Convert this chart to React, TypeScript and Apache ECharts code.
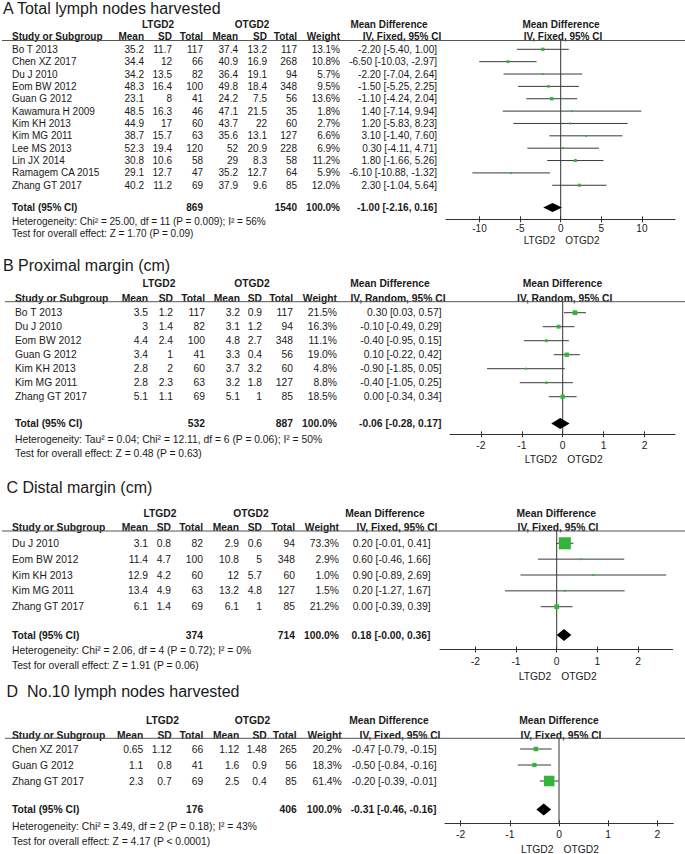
import { useEffect, useRef } from "react";
import * as echarts from "echarts";

// ---------------- DATA ----------------
// Panel A: Total lymph nodes harvested
const aTitle = "A Total lymph nodes harvested";
const aMethod = "IV, Fixed, 95% CI";
const aStudies = ["Bo T 2013", "Chen XZ 2017", "Du J 2010", "Eom BW 2012", "Guan G 2012", "Kawamura H 2009", "Kim KH 2013", "Kim MG 2011", "Lee MS 2013", "Lin JX 2014", "Ramagem CA 2015", "Zhang GT 2017"];
const aLMean = [35.2, 34.4, 34.2, 48.3, 23.1, 48.5, 44.9, 38.7, 52.3, 30.8, 29.1, 40.2];
const aLSd = [11.7, 12, 13.5, 16.4, 8, 16.3, 17, 15.7, 19.4, 10.6, 12.7, 11.2];
const aLN = [117, 66, 82, 100, 41, 46, 60, 63, 120, 58, 47, 69];
const aOMean = [37.4, 40.9, 36.4, 49.8, 24.2, 47.1, 43.7, 35.6, 52, 29, 35.2, 37.9];
const aOSd = [13.2, 16.9, 19.1, 18.4, 7.5, 21.5, 22, 13.1, 20.9, 8.3, 12.7, 9.6];
const aON = [117, 268, 94, 348, 56, 35, 60, 127, 228, 58, 64, 85];
const aWeight = [13.1, 10.8, 5.7, 9.5, 13.6, 1.8, 2.7, 6.6, 6.9, 11.2, 5.9, 12.0];
const aMd = [-2.2, -6.5, -2.2, -1.5, -1.1, 1.4, 1.2, 3.1, 0.3, 1.8, -6.1, 2.3];
const aLo = [-5.4, -10.03, -7.04, -5.25, -4.24, -7.14, -5.83, -1.4, -4.11, -1.66, -10.88, -1.04];
const aHi = [1.0, -2.97, 2.64, 2.25, 2.04, 9.94, 8.23, 7.6, 4.71, 5.26, -1.32, 5.64];
const aTotal = [869, 1540, -1.0, -2.16, 0.16]; // nL, nO, md, lo, hi
const aHet = "Heterogeneity: Chi² = 25.00, df = 11 (P = 0.009); I² = 56%";
const aTest = "Test for overall effect: Z = 1.70 (P = 0.09)";
const aTicks = [-10, -5, 0, 5, 10];

// Panel B: Proximal margin
const bTitle = "B Proximal margin (cm)";
const bMethod = "IV, Random, 95% CI";
const bStudies = ["Bo T 2013", "Du J 2010", "Eom BW 2012", "Guan G 2012", "Kim KH 2013", "Kim MG 2011", "Zhang GT 2017"];
const bLMean = [3.5, 3, 4.4, 3.4, 2.8, 2.8, 5.1];
const bLSd = [1.2, 1.4, 2.4, 1, 2, 2.3, 1.1];
const bLN = [117, 82, 100, 41, 60, 63, 69];
const bOMean = [3.2, 3.1, 4.8, 3.3, 3.7, 3.2, 5.1];
const bOSd = [0.9, 1.2, 2.7, 0.4, 3.2, 1.8, 1];
const bON = [117, 94, 348, 56, 60, 127, 85];
const bWeight = [21.5, 16.3, 11.1, 19.0, 4.8, 8.8, 18.5];
const bMd = [0.3, -0.1, -0.4, 0.1, -0.9, -0.4, 0.0];
const bLo = [0.03, -0.49, -0.95, -0.22, -1.85, -1.05, -0.34];
const bHi = [0.57, 0.29, 0.15, 0.42, 0.05, 0.25, 0.34];
const bTotal = [532, 887, -0.06, -0.28, 0.17];
const bHet = "Heterogeneity: Tau² = 0.04; Chi² = 12.11, df = 6 (P = 0.06); I² = 50%";
const bTest = "Test for overall effect: Z = 0.48 (P = 0.63)";
const bTicks = [-2, -1, 0, 1, 2];

// Panel C: Distal margin
const cTitle = "C Distal margin (cm)";
const cMethod = "IV, Fixed, 95% CI";
const cStudies = ["Du J 2010", "Eom BW 2012", "Kim KH 2013", "Kim MG 2011", "Zhang GT 2017"];
const cLMean = [3.1, 11.4, 12.9, 13.4, 6.1];
const cLSd = [0.8, 4.7, 4.2, 4.9, 1.4];
const cLN = [82, 100, 60, 63, 69];
const cOMean = [2.9, 10.8, 12, 13.2, 6.1];
const cOSd = [0.6, 5, 5.7, 4.8, 1];
const cON = [94, 348, 60, 127, 85];
const cWeight = [73.3, 2.9, 1.0, 1.5, 21.2];
const cMd = [0.2, 0.6, 0.9, 0.2, 0.0];
const cLo = [-0.01, -0.46, -0.89, -1.27, -0.39];
const cHi = [0.41, 1.66, 2.69, 1.67, 0.39];
const cTotal = [374, 714, 0.18, -0, 0.36];
const cHet = "Heterogeneity: Chi² = 2.06, df = 4 (P = 0.72); I² = 0%";
const cTest = "Test for overall effect: Z = 1.91 (P = 0.06)";
const cTicks = [-2, -1, 0, 1, 2];

// Panel D: No.10 lymph nodes harvested
const dTitle = "D  No.10 lymph nodes harvested";
const dMethod = "IV, Fixed, 95% CI";
const dStudies = ["Chen XZ 2017", "Guan G 2012", "Zhang GT 2017"];
const dLMean = [0.65, 1.1, 2.3];
const dLSd = [1.12, 0.8, 0.7];
const dLN = [66, 41, 69];
const dOMean = [1.12, 1.6, 2.5];
const dOSd = [1.48, 0.9, 0.4];
const dON = [265, 56, 85];
const dWeight = [20.2, 18.3, 61.4];
const dMd = [-0.47, -0.5, -0.2];
const dLo = [-0.79, -0.84, -0.39];
const dHi = [-0.15, -0.16, -0.01];
const dTotal = [176, 406, -0.31, -0.46, -0.16];
const dHet = "Heterogeneity: Chi² = 3.49, df = 2 (P = 0.18); I² = 43%";
const dTest = "Test for overall effect: Z = 4.17 (P < 0.0001)";
const dTicks = [-2, -1, 0, 1, 2];

const groupLabels = ["LTGD2", "OTGD2"];
const colHeaders = ["Mean", "SD", "Total", "Mean", "SD", "Total", "Weight"];

// ---------------- LAYOUT (positions / styles only) ----------------
const LAYOUT = [
  { titleX: 3, titleY: 8, font: 10, nameX: 12, groupY: 24, headY: 36, lineY: 40.5, lineX0: 2, row0: 49.3, step: 12.36, totalY: 207.5, hetY: 221.5, testY: 233.5, axisY: 219.3, zeroX: 560.7, ppu: 8.12, axL: 446, axR: 675, tickMargin: 4.5, sideY: 240, cols: [144, 172, 203, 238, 267, 297, 340, 437], grpX: [158, 252], md1X: 389, md2X: 402, pl1X: 561, pl2X: 563, diamondH: 9 },
  { titleX: 3, titleY: 265, font: 10.3, nameX: 15, groupY: 283, headY: 298, lineY: 301.7, lineX0: 5, row0: 312.7, step: 14, totalY: 423.5, hetY: 439.3, testY: 453.3, axisY: 434.3, zeroX: 562.7, ppu: 40.9, axL: 450, axR: 675, tickMargin: 6, sideY: 459, cols: [148, 173, 205, 240, 262, 293, 337, 441.5], grpX: [159, 252], md1X: 390, md2X: 398, pl1X: 562.5, pl2X: 564.7, diamondH: 11 },
  { titleX: 6.5, titleY: 487, font: 10.3, nameX: 12, groupY: 513, headY: 527, lineY: 531, lineX0: 2, row0: 543.3, step: 15.85, totalY: 635, hetY: 650, testY: 665, axisY: 649.5, zeroX: 556.7, ppu: 40.7, axL: 440, axR: 672.7, tickMargin: 7, sideY: 676.5, cols: [148, 171, 203, 239, 262, 295, 339, 430.5], grpX: [160, 251], md1X: 385, md2X: 397, pl1X: 556.3, pl2X: 558, diamondH: 12 },
  { titleX: 6.5, titleY: 691, font: 10.3, nameX: 12, groupY: 720, headY: 735, lineY: 738.3, lineX0: 5, row0: 749, step: 16, totalY: 809.5, hetY: 826.5, testY: 841.5, axisY: 823.3, zeroX: 559, ppu: 49.2, axL: 445, axR: 673.3, tickMargin: 6.5, sideY: 849, cols: [143.3, 171.7, 203.3, 239.3, 266.7, 296.7, 341.7, 436.5], grpX: [162.5, 252.5], md1X: 389, md2X: 400, pl1X: 559, pl2X: 561, diamondH: 12 },
];

const PANELS = [
  { title: aTitle, method: aMethod, studies: aStudies, lm: aLMean, ls: aLSd, ln: aLN, om: aOMean, os: aOSd, on: aON, w: aWeight, md: aMd, lo: aLo, hi: aHi, total: aTotal, het: aHet, test: aTest, ticks: aTicks },
  { title: bTitle, method: bMethod, studies: bStudies, lm: bLMean, ls: bLSd, ln: bLN, om: bOMean, os: bOSd, on: bON, w: bWeight, md: bMd, lo: bLo, hi: bHi, total: bTotal, het: bHet, test: bTest, ticks: bTicks },
  { title: cTitle, method: cMethod, studies: cStudies, lm: cLMean, ls: cLSd, ln: cLN, om: cOMean, os: cOSd, on: cON, w: cWeight, md: cMd, lo: cLo, hi: cHi, total: cTotal, het: cHet, test: cTest, ticks: cTicks },
  { title: dTitle, method: dMethod, studies: dStudies, lm: dLMean, ls: dLSd, ln: dLN, om: dOMean, os: dOSd, on: dON, w: dWeight, md: dMd, lo: dLo, hi: dHi, total: dTotal, het: dHet, test: dTest, ticks: dTicks },
];

const FONT = '"Liberation Sans", Arial, Helvetica, sans-serif';
const INK = "#1a1a1a";
const GREEN = "#35b43a";

function f2(v: number): string {
  if (v < 0 || Object.is(v, -0)) return "-" + Math.abs(v).toFixed(2);
  return v.toFixed(2);
}
function ci(md: number, lo: number, hi: number): string {
  return `${f2(md)} [${f2(lo)}, ${f2(hi)}]`;
}

function txt(text: string, x: number, y: number, size: number, align: string, bold = false) {
  return {
    type: "text",
    x,
    y,
    silent: true,
    style: {
      text,
      fontSize: size,
      fontFamily: FONT,
      fontWeight: bold ? "bold" : "normal",
      fill: INK,
      align,
      verticalAlign: "middle",
      textAlign: align,
      textVerticalAlign: "middle",
    },
  };
}

function buildOption() {
  const grids: any[] = [];
  const xAxes: any[] = [];
  const yAxes: any[] = [];
  const series: any[] = [];
  const graphics: any[] = [];

  PANELS.forEach((p, i) => {
    const L = LAYOUT[i];
    const toV = (py: number) => (py - L.row0) / L.step;
    const vTop = toV(L.lineY);
    const vBot = toV(L.axisY);
    const vTot = toV(L.totalY);
    const xMin = (L.axL - L.zeroX) / L.ppu;
    const xMax = (L.axR - L.zeroX) / L.ppu;

    grids.push({ left: L.axL, top: L.lineY, width: L.axR - L.axL, height: L.axisY - L.lineY, containLabel: false });
    xAxes.push({
      gridIndex: i,
      type: "value",
      min: xMin,
      max: xMax,
      position: "bottom",
      axisLine: { show: true, onZero: false, lineStyle: { color: "#333", width: 1 } },
      axisTick: { show: true, inside: false, length: 3, customValues: p.ticks, lineStyle: { color: "#333", width: 1 } },
      axisLabel: { show: true, customValues: p.ticks, margin: L.tickMargin, fontSize: L.font, fontFamily: FONT, color: INK, showMinLabel: true, showMaxLabel: true },
      splitLine: { show: false },
    });
    xAxes.push({
      gridIndex: i,
      type: "value",
      min: xMin,
      max: xMax,
      position: "bottom",
      axisLine: { show: false, onZero: false },
      axisTick: { show: true, inside: true, length: 3, customValues: p.ticks, lineStyle: { color: "#333", width: 1 } },
      axisLabel: { show: false },
      splitLine: { show: false },
    });
    yAxes.push({ gridIndex: i, type: "value", inverse: true, min: vTop, max: vBot, show: false, splitLine: { show: false } });

    // zero line
    series.push({
      type: "line",
      xAxisIndex: 2 * i,
      yAxisIndex: i,
      data: [[0, vTop], [0, vBot]],
      showSymbol: false,
      symbol: "none",
      silent: true,
      lineStyle: { color: "#333", width: 1 },
      z: 1,
    });

    // study CIs + squares
    series.push({
      type: "custom",
      xAxisIndex: 2 * i,
      yAxisIndex: i,
      silent: true,
      clip: false,
      z: 3,
      encode: { x: [0, 2, 3], y: 1 },
      data: p.studies.map((_, j) => [p.md[j], j, p.lo[j], p.hi[j], p.w[j]]),
      renderItem: (_params: any, api: any) => {
        const y = api.value(1);
        const c = api.coord([api.value(0), y]);
        const l = api.coord([api.value(2), y]);
        const h = api.coord([api.value(3), y]);
        const s = Math.max(2, 0.48 * Math.pow(api.value(4), 0.75));
        return {
          type: "group",
          children: [
            { type: "line", shape: { x1: l[0], y1: l[1], x2: h[0], y2: h[1] }, style: { stroke: "#3a3a3a", lineWidth: 1 } },
            { type: "rect", shape: { x: c[0] - s / 2, y: c[1] - s / 2, width: s, height: s }, style: { fill: GREEN } },
          ],
        };
      },
    });

    // total diamond
    series.push({
      type: "custom",
      xAxisIndex: 2 * i,
      yAxisIndex: i,
      silent: true,
      clip: false,
      z: 4,
      encode: { x: [0, 2, 3], y: 1 },
      data: [[p.total[2], vTot, p.total[3], p.total[4]]],
      renderItem: (_params: any, api: any) => {
        const y = api.value(1);
        const c = api.coord([api.value(0), y]);
        const l = api.coord([api.value(2), y]);
        const h = api.coord([api.value(3), y]);
        const hh = L.diamondH / 2;
        return {
          type: "polygon",
          shape: { points: [[l[0], c[1]], [c[0], c[1] - hh], [h[0], c[1]], [c[0], c[1] + hh]] },
          style: { fill: "#000" },
        };
      },
    });

    // ---------- text / table ----------
    const fs = L.font;
    graphics.push(txt(p.title, L.titleX, L.titleY, 16, "left"));
    graphics.push(txt(groupLabels[0], L.grpX[0], L.groupY, fs, "center", true));
    graphics.push(txt(groupLabels[1], L.grpX[1], L.groupY, fs, "center", true));
    graphics.push(txt("Mean Difference", L.md1X, L.groupY, fs, "center", true));
    graphics.push(txt(p.method, L.md2X, L.headY, fs, "center", true));
    graphics.push(txt("Mean Difference", L.pl1X, L.groupY, fs, "center", true));
    graphics.push(txt(p.method, L.pl2X, L.headY, fs, "center", true));
    graphics.push(txt("Study or Subgroup", L.nameX, L.headY, fs, "left", true));
    colHeaders.forEach((h, k) => graphics.push(txt(h, L.cols[k], L.headY, fs, "right", true)));
    graphics.push({
      type: "line",
      silent: true,
      shape: { x1: L.lineX0, y1: L.lineY, x2: 685, y2: L.lineY },
      style: { stroke: "#555", lineWidth: 1 },
    });

    p.studies.forEach((name, j) => {
      const y = L.row0 + j * L.step;
      const cells = [
        String(p.lm[j]), String(p.ls[j]), String(p.ln[j]),
        String(p.om[j]), String(p.os[j]), String(p.on[j]),
        p.w[j].toFixed(1) + "%", ci(p.md[j], p.lo[j], p.hi[j]),
      ];
      graphics.push(txt(name, L.nameX, y, fs, "left"));
      cells.forEach((c, k) => graphics.push(txt(c, L.cols[k], y, fs, "right")));
    });

    graphics.push(txt("Total (95% CI)", L.nameX, L.totalY, fs, "left", true));
    graphics.push(txt(String(p.total[0]), L.cols[2], L.totalY, fs, "right", true));
    graphics.push(txt(String(p.total[1]), L.cols[5], L.totalY, fs, "right", true));
    graphics.push(txt("100.0%", L.cols[6], L.totalY, fs, "right", true));
    graphics.push(txt(ci(p.total[2], p.total[3], p.total[4]), L.cols[7], L.totalY, fs, "right", true));
    graphics.push(txt(p.het, L.nameX, L.hetY, fs, "left"));
    graphics.push(txt(p.test, L.nameX, L.testY, fs, "left"));

    graphics.push(txt(groupLabels[0], L.zeroX - 5.5, L.sideY, fs, "right"));
    graphics.push(txt(groupLabels[1], L.zeroX + 4.5, L.sideY, fs, "left"));
  });

  return {
    animation: false,
    backgroundColor: "#ffffff",
    grid: grids,
    xAxis: xAxes,
    yAxis: yAxes,
    series,
    graphic: { elements: graphics },
  };
}

export default function App() {
  const ref = useRef<HTMLDivElement>(null);
  useEffect(() => {
    if (!ref.current) return;
    document.body.style.margin = "0";
    const chart = echarts.init(ref.current, undefined, { renderer: "svg", width: 685, height: 854 });
    chart.setOption(buildOption() as any);
    return () => chart.dispose();
  }, []);
  return <div ref={ref} style={{ position: "absolute", left: 0, top: 0, width: 685, height: 854, background: "#fff" }} />;
}
